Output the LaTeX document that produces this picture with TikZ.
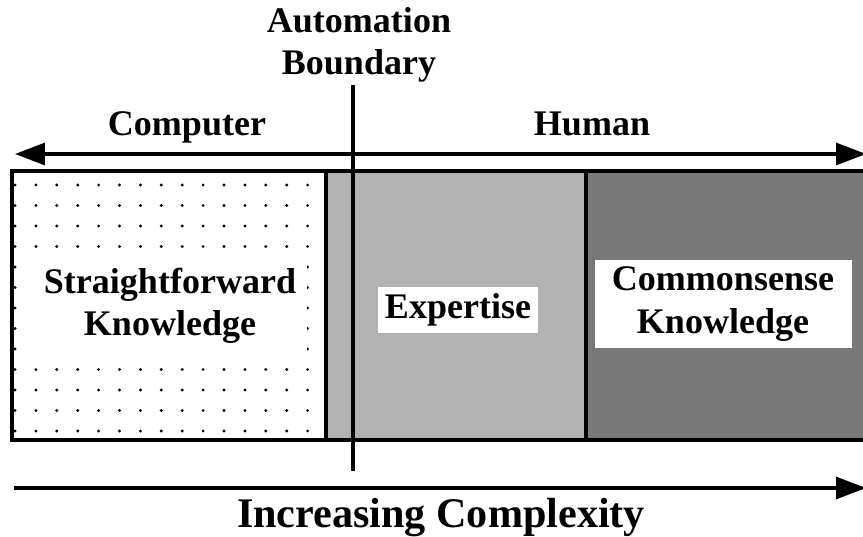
\documentclass[tikz,border=0pt]{standalone}
\usepackage{fontspec}
\setmainfont{Liberation Serif}
\usetikzlibrary{arrows.meta}

\definecolor{expfill}{gray}{0.70}
\definecolor{comfill}{gray}{0.47}

\tikzset{
	lbl/.style={font=\fontsize{20.5}{24}\selectfont\bfseries, align=center},
	lblbox/.style={lbl, fill=white, inner sep=4pt},
	bigtip/.tip={Triangle[length=0.6cm, width=0.44cm]},
	bigarrow/.style={line width=1.8pt, -bigtip},
	dotcol/.style={black}
}

\begin{document}
\begin{tikzpicture}[x=0.02cm, y=-0.02cm]

	\useasboundingbox (0,0) rectangle (863,537);

	%regions
	\fill[expfill] (326,171) rectangle (586,440);
	\fill[comfill] (586,171) rectangle (868,440);

	%dot grid in the first region
	\foreach \i in {0,...,14} {
		\foreach \j in {0,...,12} {
			\fill[dotcol] (15+20.9*\i, 185+20.5*\j) circle (1.6);
		}
	}

	%box and dividers
	\draw[line width=2.2pt] (12,171) rectangle (868,440);
	\draw[line width=2pt] (326,171) -- (326,440);
	\draw[line width=2pt] (586,171) -- (586,440);

	%region labels
	\node[lblbox, minimum width=274*0.02cm, minimum height=77*0.02cm] (straight) at (170,306) {Straightforward\\Knowledge};
	\node[lblbox, minimum width=157*0.02cm, minimum height=46*0.02cm] (expert) at (458,310) {Expertise};
	\node[lblbox, minimum width=257*0.02cm, minimum height=78*0.02cm] (common) at (723,304) {Commonsense\\Knowledge};

	%top labels
	\node[lbl, anchor=base] (computer) at (187,136) {Computer};
	\node[lbl, anchor=base] (human) at (592,136) {Human};
	\node[lbl, inner sep=0pt] (auto) at (359,45) {Automation\\Boundary};
	\node[lbl, font=\fontsize{24}{28}\selectfont\bfseries, anchor=base] (complex) at (441,527) {Increasing Complexity};

	%arrows
	\coordinate (topL) at (15,154);
	\coordinate (topR) at (866,154);
	\coordinate (botL) at (14,488);
	\coordinate (botR) at (866,488);
	\coordinate (autoTop) at (353,85);
	\coordinate (autoBot) at (353,471);

	\draw[line width=1.8pt, bigtip-bigtip] (topL) -- (topR);
	\draw[bigarrow] (botL) -- (botR);
	\draw[line width=1.8pt] (autoTop) -- (autoBot);

\end{tikzpicture}
\end{document}
